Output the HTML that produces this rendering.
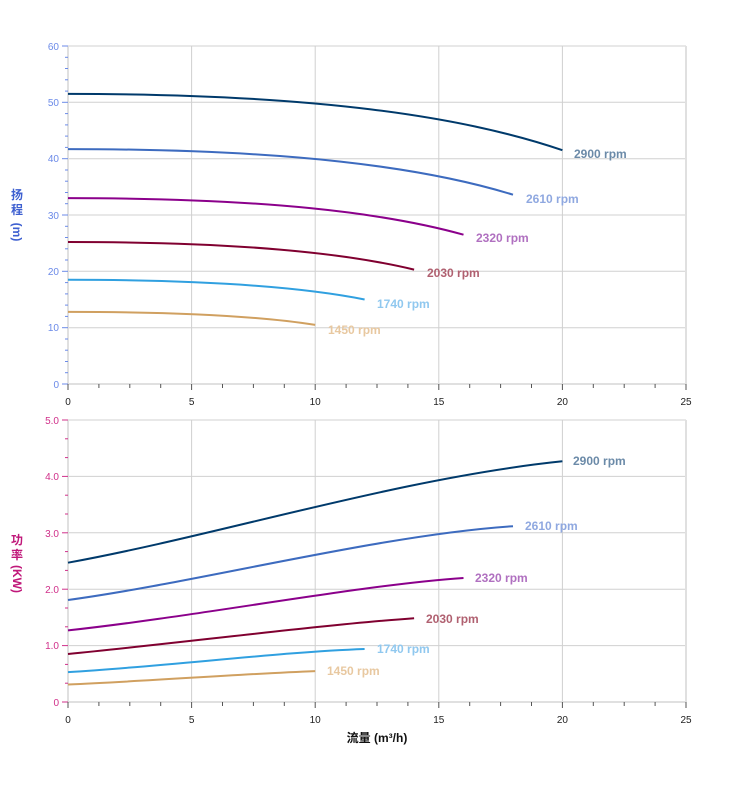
<!DOCTYPE html>
<html><head><meta charset="utf-8"><style>
html,body{margin:0;padding:0;background:#fff;}
svg{display:block;font-family:"Liberation Sans","Noto Sans CJK SC",sans-serif;}
</style></head><body>
<svg width="752" height="797" viewBox="0 0 752 797" xmlns="http://www.w3.org/2000/svg">
<!-- TOP CHART -->
<g stroke="#d0d0d0" stroke-width="1">
<line x1="191.6" y1="46" x2="191.6" y2="384"/><line x1="315.2" y1="46" x2="315.2" y2="384"/>
<line x1="438.8" y1="46" x2="438.8" y2="384"/><line x1="562.4" y1="46" x2="562.4" y2="384"/>
<line x1="68" y1="46" x2="686" y2="46"/><line x1="68" y1="102.3" x2="686" y2="102.3"/>
<line x1="68" y1="158.7" x2="686" y2="158.7"/><line x1="68" y1="215" x2="686" y2="215"/>
<line x1="68" y1="271.3" x2="686" y2="271.3"/><line x1="68" y1="327.7" x2="686" y2="327.7"/>
</g>
<line x1="686" y1="46" x2="686" y2="384" stroke="#e0e0e0" stroke-width="2"/>
<line x1="68" y1="46" x2="68" y2="384" stroke="#e0e0e0" stroke-width="2"/>
<line x1="68" y1="384" x2="686" y2="384" stroke="#e0e0e0" stroke-width="2"/>
<g stroke="#6b8ae8" stroke-width="1">
<line x1="62" y1="46" x2="68" y2="46"/><line x1="62" y1="102.3" x2="68" y2="102.3"/><line x1="62" y1="158.7" x2="68" y2="158.7"/><line x1="62" y1="215" x2="68" y2="215"/><line x1="62" y1="271.3" x2="68" y2="271.3"/><line x1="62" y1="327.7" x2="68" y2="327.7"/><line x1="62" y1="384" x2="68" y2="384"/>
</g>
<g stroke="#6b8ae8" stroke-width="1">
<line x1="65" y1="57.3" x2="68" y2="57.3"/><line x1="65" y1="68.5" x2="68" y2="68.5"/><line x1="65" y1="79.8" x2="68" y2="79.8"/><line x1="65" y1="91.1" x2="68" y2="91.1"/>
<line x1="65" y1="113.6" x2="68" y2="113.6"/><line x1="65" y1="124.9" x2="68" y2="124.9"/><line x1="65" y1="136.1" x2="68" y2="136.1"/><line x1="65" y1="147.4" x2="68" y2="147.4"/>
<line x1="65" y1="170" x2="68" y2="170"/><line x1="65" y1="181.2" x2="68" y2="181.2"/><line x1="65" y1="192.5" x2="68" y2="192.5"/><line x1="65" y1="203.7" x2="68" y2="203.7"/>
<line x1="65" y1="226.3" x2="68" y2="226.3"/><line x1="65" y1="237.5" x2="68" y2="237.5"/><line x1="65" y1="248.8" x2="68" y2="248.8"/><line x1="65" y1="260" x2="68" y2="260"/>
<line x1="65" y1="282.6" x2="68" y2="282.6"/><line x1="65" y1="293.9" x2="68" y2="293.9"/><line x1="65" y1="305.1" x2="68" y2="305.1"/><line x1="65" y1="316.4" x2="68" y2="316.4"/>
<line x1="65" y1="339" x2="68" y2="339"/><line x1="65" y1="350.2" x2="68" y2="350.2"/><line x1="65" y1="361.5" x2="68" y2="361.5"/><line x1="65" y1="372.7" x2="68" y2="372.7"/>
</g>
<g fill="#6b8ae8" font-size="10" text-anchor="end">
<text x="59" y="50">60</text><text x="59" y="106">50</text><text x="59" y="162">40</text><text x="59" y="219">30</text><text x="59" y="275">20</text><text x="59" y="331">10</text><text x="59" y="388">0</text>
</g>
<g fill="#3d5fd0" font-size="12" font-weight="bold" text-anchor="middle">
<text x="17" y="199">扬</text><text x="17" y="214">程</text>
<text x="17" y="236" transform="rotate(90 17 232)">(m)</text>
</g>
<g id="xt" stroke="#555" stroke-width="1">
<line x1="68" y1="384" x2="68" y2="390"/><line x1="98.9" y1="384" x2="98.9" y2="388"/><line x1="129.8" y1="384" x2="129.8" y2="388"/><line x1="160.7" y1="384" x2="160.7" y2="388"/>
<line x1="191.6" y1="384" x2="191.6" y2="390"/><line x1="222.5" y1="384" x2="222.5" y2="388"/><line x1="253.4" y1="384" x2="253.4" y2="388"/><line x1="284.3" y1="384" x2="284.3" y2="388"/>
<line x1="315.2" y1="384" x2="315.2" y2="390"/><line x1="346.1" y1="384" x2="346.1" y2="388"/><line x1="377" y1="384" x2="377" y2="388"/><line x1="407.9" y1="384" x2="407.9" y2="388"/>
<line x1="438.8" y1="384" x2="438.8" y2="390"/><line x1="469.7" y1="384" x2="469.7" y2="388"/><line x1="500.6" y1="384" x2="500.6" y2="388"/><line x1="531.5" y1="384" x2="531.5" y2="388"/>
<line x1="562.4" y1="384" x2="562.4" y2="390"/><line x1="593.3" y1="384" x2="593.3" y2="388"/><line x1="624.2" y1="384" x2="624.2" y2="388"/><line x1="655.1" y1="384" x2="655.1" y2="388"/>
<line x1="686" y1="384" x2="686" y2="390"/>
</g>
<g fill="#222" font-size="10" text-anchor="middle">
<text x="68" y="405">0</text><text x="191.6" y="405">5</text><text x="315.2" y="405">10</text><text x="438.8" y="405">15</text><text x="562.4" y="405">20</text><text x="686" y="405">25</text>
</g>
<g fill="none" stroke-width="2">
<path d="M68,93.9 C315.2,93.9 463.5,116.4 562.4,150.2" stroke="#003a6b"/>
<path d="M68,149.1 C290.5,149.1 424,167.3 513,194.7" stroke="#3d6bbf"/>
<path d="M68,198.1 C265.8,198.1 384.4,212.7 463.5,234.7" stroke="#8b008b"/>
<path d="M68,242 C241,242 344.9,253 414.1,269.6" stroke="#800030"/>
<path d="M68,279.8 C216.3,279.8 305.3,287.7 364.6,299.5" stroke="#30a0e0"/>
<path d="M68,311.9 C191.6,311.9 265.8,317.1 315.2,324.9" stroke="#d0a060"/>
</g>
<g font-size="12" font-weight="bold">
<text x="574" y="158" fill="#6b8aa8">2900 rpm</text>
<text x="526" y="203" fill="#8fa8e0">2610 rpm</text>
<text x="476" y="242" fill="#b070c0">2320 rpm</text>
<text x="427" y="277" fill="#b06070">2030 rpm</text>
<text x="377" y="308" fill="#90c8ef">1740 rpm</text>
<text x="328" y="334" fill="#e8c8a0">1450 rpm</text>
</g>

<!-- BOTTOM CHART -->
<g stroke="#d0d0d0" stroke-width="1">
<line x1="191.6" y1="420" x2="191.6" y2="702"/><line x1="315.2" y1="420" x2="315.2" y2="702"/>
<line x1="438.8" y1="420" x2="438.8" y2="702"/><line x1="562.4" y1="420" x2="562.4" y2="702"/>
<line x1="68" y1="420" x2="686" y2="420"/><line x1="68" y1="476.4" x2="686" y2="476.4"/>
<line x1="68" y1="532.8" x2="686" y2="532.8"/><line x1="68" y1="589.2" x2="686" y2="589.2"/>
<line x1="68" y1="645.6" x2="686" y2="645.6"/>
</g>
<line x1="686" y1="420" x2="686" y2="702" stroke="#e0e0e0" stroke-width="2"/>
<line x1="68" y1="420" x2="68" y2="702" stroke="#e0e0e0" stroke-width="2"/>
<line x1="68" y1="702" x2="686" y2="702" stroke="#e0e0e0" stroke-width="2"/>
<g stroke="#d0308a" stroke-width="1">
<line x1="62" y1="420" x2="68" y2="420"/><line x1="62" y1="476.4" x2="68" y2="476.4"/><line x1="62" y1="532.8" x2="68" y2="532.8"/><line x1="62" y1="589.2" x2="68" y2="589.2"/><line x1="62" y1="645.6" x2="68" y2="645.6"/><line x1="62" y1="702" x2="68" y2="702"/>
<line x1="65" y1="438.8" x2="68" y2="438.8"/><line x1="65" y1="457.6" x2="68" y2="457.6"/>
<line x1="65" y1="495.2" x2="68" y2="495.2"/><line x1="65" y1="514" x2="68" y2="514"/>
<line x1="65" y1="551.6" x2="68" y2="551.6"/><line x1="65" y1="570.4" x2="68" y2="570.4"/>
<line x1="65" y1="608" x2="68" y2="608"/><line x1="65" y1="626.8" x2="68" y2="626.8"/>
<line x1="65" y1="664.4" x2="68" y2="664.4"/><line x1="65" y1="683.2" x2="68" y2="683.2"/>
</g>
<g fill="#d0308a" font-size="10" text-anchor="end">
<text x="59" y="424">5.0</text><text x="59" y="480">4.0</text><text x="59" y="537">3.0</text><text x="59" y="593">2.0</text><text x="59" y="649">1.0</text><text x="59" y="706">0</text>
</g>
<g fill="#c0187a" font-size="12" font-weight="bold" text-anchor="middle">
<text x="17" y="544">功</text><text x="17" y="559">率</text>
<text x="17" y="583" transform="rotate(90 17 579)">(KW)</text>
</g>
<use href="#xt" transform="translate(0,318)"/>
<g fill="#222" font-size="10" text-anchor="middle">
<text x="68" y="723">0</text><text x="191.6" y="723">5</text><text x="315.2" y="723">10</text><text x="438.8" y="723">15</text><text x="562.4" y="723">20</text><text x="686" y="723">25</text>
</g>
<text x="377" y="742" font-size="12" font-weight="bold" fill="#111" text-anchor="middle">流量 (m³/h)</text>
<g fill="none" stroke-width="2">
<path d="M68,562.7 C220,535 400,478 562.4,461.3" stroke="#003a6b"/>
<path d="M68,600 C200,582 380,535 513,526.2" stroke="#3d6bbf"/>
<path d="M68,630.4 C200,616 360,585 463.5,578" stroke="#8b008b"/>
<path d="M68,654 C180,643 320,625 414.1,618.2" stroke="#800030"/>
<path d="M68,672.1 C170,666 280,652 364.6,649" stroke="#30a0e0"/>
<path d="M68,684.5 C150,681 240,674 315.2,671.1" stroke="#d0a060"/>
</g>
<g font-size="12" font-weight="bold">
<text x="573" y="465" fill="#6b8aa8">2900 rpm</text>
<text x="525" y="530" fill="#8fa8e0">2610 rpm</text>
<text x="475" y="582" fill="#b070c0">2320 rpm</text>
<text x="426" y="623" fill="#b06070">2030 rpm</text>
<text x="377" y="653" fill="#90c8ef">1740 rpm</text>
<text x="327" y="675" fill="#e8c8a0">1450 rpm</text>
</g>
</svg>
</body></html>
